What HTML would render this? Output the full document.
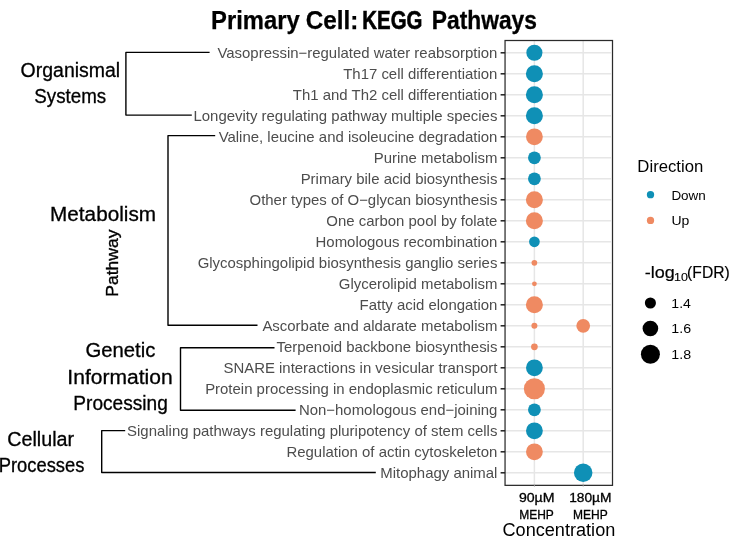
<!DOCTYPE html>
<html lang="en">
<head>
<meta charset="utf-8">
<title>Primary Cell: KEGG Pathways</title>
<style>
html,body{margin:0;padding:0;background:#fff;}
body{width:749px;height:537px;overflow:hidden;}
svg{display:block;font-family:"Liberation Sans",sans-serif;will-change:transform;}
.ttl{font-size:25.4px;font-weight:700;fill:#000;}
.lab{font-size:14.95px;fill:#4d4d4d;text-anchor:end;}
.cat{font-size:20px;fill:#000;stroke:#000;stroke-width:0.3;}
.leg{font-size:13.2px;fill:#000;}
.xt{font-size:12.4px;fill:#000;stroke:#000;stroke-width:0.3;}
.grid{stroke:#e6e6e6;stroke-width:1.5;}
.tick{stroke:#1f1f1f;stroke-width:1.5;}
.br{stroke:#000;stroke-width:1.4;fill:none;stroke-linejoin:round;}
</style>
</head>
<body>
<svg width="749" height="537" viewBox="0 0 749 537">
<rect x="0" y="0" width="749" height="537" fill="#ffffff"/>
<text class="ttl" x="211.0" y="28.6" textLength="88.68" lengthAdjust="spacingAndGlyphs" stroke="#000" stroke-width="0.25">Primary</text>
<text class="ttl" x="305.73" y="28.6" textLength="52.71" lengthAdjust="spacingAndGlyphs" stroke="#000" stroke-width="0.25">Cell:</text>
<text class="ttl" x="362.32" y="28.6" textLength="60.07" lengthAdjust="spacingAndGlyphs" stroke="#000" stroke-width="0.6">KEGG</text>
<text class="ttl" x="431.76" y="28.6" textLength="105.21" lengthAdjust="spacingAndGlyphs" stroke="#000" stroke-width="0.3">Pathways</text>
<g class="grid">
<line x1="505.05" x2="611.0" y1="52.80" y2="52.80"/>
<line x1="505.05" x2="611.0" y1="73.80" y2="73.80"/>
<line x1="505.05" x2="611.0" y1="94.80" y2="94.80"/>
<line x1="505.05" x2="611.0" y1="115.80" y2="115.80"/>
<line x1="505.05" x2="611.0" y1="136.80" y2="136.80"/>
<line x1="505.05" x2="611.0" y1="157.80" y2="157.80"/>
<line x1="505.05" x2="611.0" y1="178.80" y2="178.80"/>
<line x1="505.05" x2="611.0" y1="199.80" y2="199.80"/>
<line x1="505.05" x2="611.0" y1="220.80" y2="220.80"/>
<line x1="505.05" x2="611.0" y1="241.80" y2="241.80"/>
<line x1="505.05" x2="611.0" y1="262.80" y2="262.80"/>
<line x1="505.05" x2="611.0" y1="283.80" y2="283.80"/>
<line x1="505.05" x2="611.0" y1="304.80" y2="304.80"/>
<line x1="505.05" x2="611.0" y1="325.80" y2="325.80"/>
<line x1="505.05" x2="611.0" y1="346.80" y2="346.80"/>
<line x1="505.05" x2="611.0" y1="367.80" y2="367.80"/>
<line x1="505.05" x2="611.0" y1="388.80" y2="388.80"/>
<line x1="505.05" x2="611.0" y1="409.80" y2="409.80"/>
<line x1="505.05" x2="611.0" y1="430.80" y2="430.80"/>
<line x1="505.05" x2="611.0" y1="451.80" y2="451.80"/>
<line x1="505.05" x2="611.0" y1="472.80" y2="472.80"/>
<line x1="534.4" x2="534.4" y1="40.5" y2="485.35"/>
<line x1="583.2" x2="583.2" y1="40.5" y2="485.35"/>
</g>
<circle cx="534.4" cy="52.80" r="8.05" fill="#0f90b6"/>
<circle cx="534.4" cy="73.80" r="8.50" fill="#0f90b6"/>
<circle cx="534.4" cy="94.80" r="8.50" fill="#0f90b6"/>
<circle cx="534.4" cy="115.80" r="8.50" fill="#0f90b6"/>
<circle cx="534.4" cy="136.80" r="8.40" fill="#ef8a62"/>
<circle cx="534.4" cy="157.80" r="6.40" fill="#0f90b6"/>
<circle cx="534.4" cy="178.80" r="6.40" fill="#0f90b6"/>
<circle cx="534.4" cy="199.80" r="8.50" fill="#ef8a62"/>
<circle cx="534.4" cy="220.80" r="8.50" fill="#ef8a62"/>
<circle cx="534.4" cy="241.80" r="5.35" fill="#0f90b6"/>
<circle cx="534.4" cy="262.80" r="2.85" fill="#ef8a62"/>
<circle cx="534.4" cy="283.80" r="2.40" fill="#ef8a62"/>
<circle cx="534.4" cy="304.80" r="8.50" fill="#ef8a62"/>
<circle cx="534.4" cy="325.80" r="3.00" fill="#ef8a62"/>
<circle cx="583.2" cy="325.80" r="6.85" fill="#ef8a62"/>
<circle cx="534.4" cy="346.80" r="3.35" fill="#ef8a62"/>
<circle cx="534.4" cy="367.80" r="8.40" fill="#0f90b6"/>
<circle cx="534.4" cy="388.80" r="10.55" fill="#ef8a62"/>
<circle cx="534.4" cy="409.80" r="6.40" fill="#0f90b6"/>
<circle cx="534.4" cy="430.80" r="8.40" fill="#0f90b6"/>
<circle cx="534.4" cy="451.80" r="8.40" fill="#ef8a62"/>
<circle cx="583.2" cy="472.80" r="9.25" fill="#0f90b6"/>
<rect x="505.05" y="40.5" width="107.45" height="444.85" fill="none" stroke="#2b2b2b" stroke-width="1.25"/>
<g class="tick">
<line x1="500.6" x2="505.05" y1="52.80" y2="52.80"/>
<line x1="500.6" x2="505.05" y1="73.80" y2="73.80"/>
<line x1="500.6" x2="505.05" y1="94.80" y2="94.80"/>
<line x1="500.6" x2="505.05" y1="115.80" y2="115.80"/>
<line x1="500.6" x2="505.05" y1="136.80" y2="136.80"/>
<line x1="500.6" x2="505.05" y1="157.80" y2="157.80"/>
<line x1="500.6" x2="505.05" y1="178.80" y2="178.80"/>
<line x1="500.6" x2="505.05" y1="199.80" y2="199.80"/>
<line x1="500.6" x2="505.05" y1="220.80" y2="220.80"/>
<line x1="500.6" x2="505.05" y1="241.80" y2="241.80"/>
<line x1="500.6" x2="505.05" y1="262.80" y2="262.80"/>
<line x1="500.6" x2="505.05" y1="283.80" y2="283.80"/>
<line x1="500.6" x2="505.05" y1="304.80" y2="304.80"/>
<line x1="500.6" x2="505.05" y1="325.80" y2="325.80"/>
<line x1="500.6" x2="505.05" y1="346.80" y2="346.80"/>
<line x1="500.6" x2="505.05" y1="367.80" y2="367.80"/>
<line x1="500.6" x2="505.05" y1="388.80" y2="388.80"/>
<line x1="500.6" x2="505.05" y1="409.80" y2="409.80"/>
<line x1="500.6" x2="505.05" y1="430.80" y2="430.80"/>
<line x1="500.6" x2="505.05" y1="451.80" y2="451.80"/>
<line x1="500.6" x2="505.05" y1="472.80" y2="472.80"/>
</g>
<line x1="534.4" x2="534.4" y1="485.35" y2="487" stroke="#c8c8c8" stroke-width="1"/>
<line x1="583.2" x2="583.2" y1="485.35" y2="487" stroke="#c8c8c8" stroke-width="1"/>
<text class="lab" x="497.4" y="57.75">Vasopressin−regulated water reabsorption</text>
<text class="lab" x="497.4" y="78.75">Th17 cell differentiation</text>
<text class="lab" x="497.4" y="99.75">Th1 and Th2 cell differentiation</text>
<text class="lab" x="497.4" y="120.75">Longevity regulating pathway multiple species</text>
<text class="lab" x="497.4" y="141.75">Valine, leucine and isoleucine degradation</text>
<text class="lab" x="497.4" y="162.75">Purine metabolism</text>
<text class="lab" x="497.4" y="183.75">Primary bile acid biosynthesis</text>
<text class="lab" x="497.4" y="204.75">Other types of O−glycan biosynthesis</text>
<text class="lab" x="497.4" y="225.75">One carbon pool by folate</text>
<text class="lab" x="497.4" y="246.75">Homologous recombination</text>
<text class="lab" x="497.4" y="267.75">Glycosphingolipid biosynthesis ganglio series</text>
<text class="lab" x="497.4" y="288.75">Glycerolipid metabolism</text>
<text class="lab" x="497.4" y="309.75">Fatty acid elongation</text>
<text class="lab" x="497.4" y="330.75">Ascorbate and aldarate metabolism</text>
<text class="lab" x="497.4" y="351.75">Terpenoid backbone biosynthesis</text>
<text class="lab" x="497.4" y="372.75">SNARE interactions in vesicular transport</text>
<text class="lab" x="497.4" y="393.75">Protein processing in endoplasmic reticulum</text>
<text class="lab" x="497.4" y="414.75">Non−homologous end−joining</text>
<text class="lab" x="497.4" y="435.75">Signaling pathways regulating pluripotency of stem cells</text>
<text class="lab" x="497.4" y="456.75">Regulation of actin cytoskeleton</text>
<text class="lab" x="497.4" y="477.75">Mitophagy animal</text>
<path class="br" d="M209.6 52.4H125.9V115.1H191.8"/>
<path class="br" d="M215.2 135.6H168V325.2H257.5"/>
<path class="br" d="M274.5 347.8H180.5V410.3H295.6"/>
<path class="br" d="M125.2 430.6H101.7V472.5H375.8"/>
<text class="cat" x="20.6" y="76.8" textLength="99.61" lengthAdjust="spacingAndGlyphs">Organismal</text>
<text class="cat" x="34.28" y="102.7" textLength="71.93" lengthAdjust="spacingAndGlyphs">Systems</text>
<text class="cat" x="50.1" y="221.0" textLength="105.9" lengthAdjust="spacingAndGlyphs">Metabolism</text>
<text class="cat" x="85.45" y="357.0" textLength="69.87" lengthAdjust="spacingAndGlyphs">Genetic</text>
<text class="cat" x="67.36" y="383.5" textLength="105.27" lengthAdjust="spacingAndGlyphs">Information</text>
<text class="cat" x="73.32" y="410.0" textLength="94.45" lengthAdjust="spacingAndGlyphs">Processing</text>
<text class="cat" x="7.27" y="445.7" textLength="66.85" lengthAdjust="spacingAndGlyphs">Cellular</text>
<text class="cat" x="-1.32" y="471.7" textLength="85.68" lengthAdjust="spacingAndGlyphs">Processes</text>
<text transform="translate(118.3 296.74) rotate(-90)" font-size="17.4" stroke="#000" stroke-width="0.35" textLength="67.13" lengthAdjust="spacingAndGlyphs">Pathway</text>
<text x="637.36" y="171.7" font-size="16.4" textLength="65.92" lengthAdjust="spacingAndGlyphs">Direction</text>
<circle cx="650.5" cy="194.7" r="3.65" fill="#0f90b6"/>
<text class="leg" x="671.4" y="199.5" textLength="34.37" lengthAdjust="spacingAndGlyphs">Down</text>
<circle cx="650.5" cy="220.4" r="3.65" fill="#ef8a62"/>
<text class="leg" x="671.4" y="224.8" textLength="17.9" lengthAdjust="spacingAndGlyphs">Up</text>
<text x="644.78" y="278.4" font-size="16.8" stroke="#000" stroke-width="0.18" textLength="30.0" lengthAdjust="spacingAndGlyphs">-log</text>
<text x="673.97" y="281.0" font-size="11.3" stroke="#000" stroke-width="0.12" textLength="13.83" lengthAdjust="spacingAndGlyphs">10</text>
<text x="687.12" y="278.4" font-size="16.8" stroke="#000" stroke-width="0.18" textLength="42.65" lengthAdjust="spacingAndGlyphs">(FDR)</text>
<circle cx="650.4" cy="303.0" r="5.55" fill="#000"/>
<text class="leg" x="671.3" y="307.8" textLength="19.6" lengthAdjust="spacingAndGlyphs">1.4</text>
<circle cx="650.4" cy="328.5" r="7.8" fill="#000"/>
<text class="leg" x="671.3" y="333.3" textLength="19.78" lengthAdjust="spacingAndGlyphs">1.6</text>
<circle cx="650.4" cy="354.3" r="9.5" fill="#000"/>
<text class="leg" x="671.3" y="359.1" textLength="19.82" lengthAdjust="spacingAndGlyphs">1.8</text>
<text class="xt" x="518.92" y="501.7" textLength="35.62" lengthAdjust="spacingAndGlyphs">90µM</text>
<text class="xt" x="519.22" y="518.5" textLength="34.65" lengthAdjust="spacingAndGlyphs">MEHP</text>
<text class="xt" x="569.18" y="501.7" textLength="42.33" lengthAdjust="spacingAndGlyphs">180µM</text>
<text class="xt" x="573.02" y="518.5" textLength="34.65" lengthAdjust="spacingAndGlyphs">MEHP</text>
<text x="502.51" y="536" font-size="18" textLength="112.81" lengthAdjust="spacingAndGlyphs">Concentration</text>
</svg>
</body>
</html>
